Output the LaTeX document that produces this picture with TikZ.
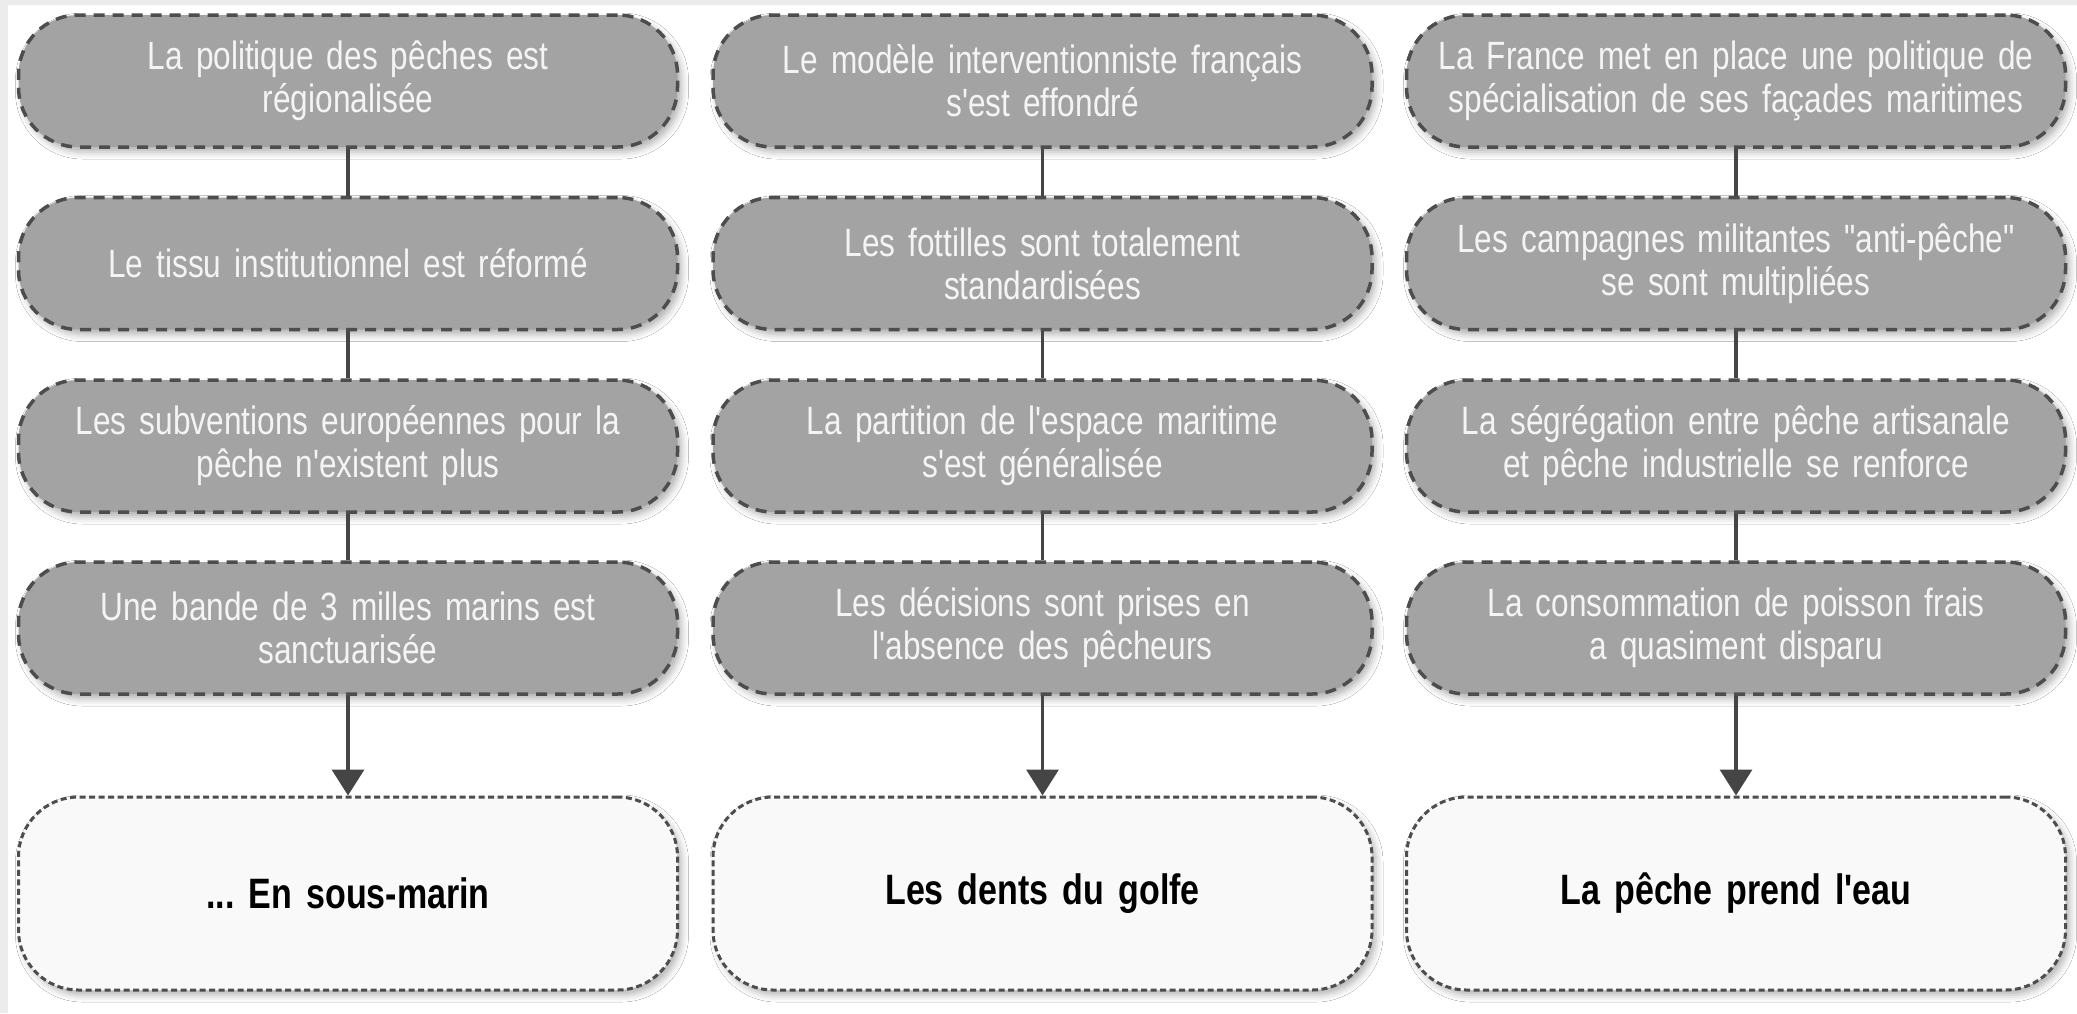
\documentclass[tikz,border=0pt]{standalone}
\usepackage{fontspec}
\setmainfont{Liberation Sans}[FakeStretch=0.8, WordSpace=0.62, Ligatures=TeXOff]
\usetikzlibrary{arrows.meta,shadows.blur}
\definecolor{boxgray}{HTML}{A3A3A3}
\definecolor{edgegray}{HTML}{4D4D4D}
\definecolor{txtwhite}{HTML}{F4F4F4}
\definecolor{endfill}{HTML}{F9F9F9}
\definecolor{stripgray}{HTML}{ECECEC}
\tikzset{
  stepbox/.style={draw=edgegray, fill=boxgray, line width=3.5pt,
    dash pattern=on 11pt off 8pt, rounded corners=60pt,
    minimum width=659pt, minimum height=132pt, inner sep=0pt,
    text width=630pt, align=center, text=txtwhite,
    font=\fontsize{39.5}{43}\selectfont,
    blur shadow={shadow xshift=4pt, shadow yshift=-5pt, shadow blur radius=7pt, shadow opacity=30}},
  endbox/.style={draw=edgegray, fill=endfill, line width=3pt,
    dash pattern=on 6pt off 3.5pt, rounded corners=60pt,
    minimum width=659pt, minimum height=193pt, inner sep=0pt,
    text width=620pt, align=center, text=black,
    font=\fontsize{42.5}{50}\selectfont\bfseries,
    blur shadow={shadow xshift=4pt, shadow yshift=-5pt, shadow blur radius=7pt, shadow opacity=30}},
  conn/.style={draw=edgegray!90!black, line width=3.5pt},
  arr/.style={conn, -{Triangle[width=32pt,length=26pt]}}
}
\frenchspacing
\begin{document}
\begin{tikzpicture}[x=1pt,y=-1pt]
\useasboundingbox (0,0) rectangle (2077,1013);
\fill[white] (0,0) rectangle (2077,1013);
\fill[stripgray] (0,0) rectangle (2077,5);
\fill[stripgray] (0,0) rectangle (8,1013);

% column 1
\node[stepbox] (a1) at (348,81) {La politique des pêches est\\régionalisée};
\node[stepbox] (a2) at (348,263.5) {Le tissu institutionnel est réformé};
\node[stepbox] (a3) at (348,446) {Les subventions européennes pour la\\pêche n'existent plus};
\node[stepbox] (a4) at (348,628) {Une bande de 3 milles marins est\\sanctuarisée};
\node[endbox] (a5) at (348,893.5) {... En sous-marin};

% column 2
\node[stepbox] (b1) at (1042.5,81) {Le modèle interventionniste français\\s'est effondré};
\node[stepbox] (b2) at (1042.5,263.5) {Les fottilles sont totalement\\standardisées};
\node[stepbox] (b3) at (1042.5,446) {La partition de l'espace maritime\\s'est généralisée};
\node[stepbox] (b4) at (1042.5,628) {Les décisions sont prises en\\l'absence des pêcheurs};
\node[endbox] (b5) at (1042.5,893.5) {Les dents du golfe};

% column 3
\node[stepbox] (c1) at (1736,81) {La France met en place une politique de\\spécialisation de ses façades maritimes};
\node[stepbox] (c2) at (1736,263.5) {Les campagnes militantes "anti-pêche"\\se sont multipliées};
\node[stepbox] (c3) at (1736,446) {La ségrégation entre pêche artisanale\\et pêche industrielle se renforce};
\node[stepbox] (c4) at (1736,628) {La consommation de poisson frais\\a quasiment disparu};
\node[endbox] (c5) at (1736,893.5) {La pêche prend l'eau};

\draw[conn] (a1) -- (a2);
\draw[conn] (a2) -- (a3);
\draw[conn] (a3) -- (a4);
\draw[arr] (a4) -- (a5);
\draw[conn] (b1) -- (b2);
\draw[conn] (b2) -- (b3);
\draw[conn] (b3) -- (b4);
\draw[arr] (b4) -- (b5);
\draw[conn] (c1) -- (c2);
\draw[conn] (c2) -- (c3);
\draw[conn] (c3) -- (c4);
\draw[arr] (c4) -- (c5);
\end{tikzpicture}
\end{document}
